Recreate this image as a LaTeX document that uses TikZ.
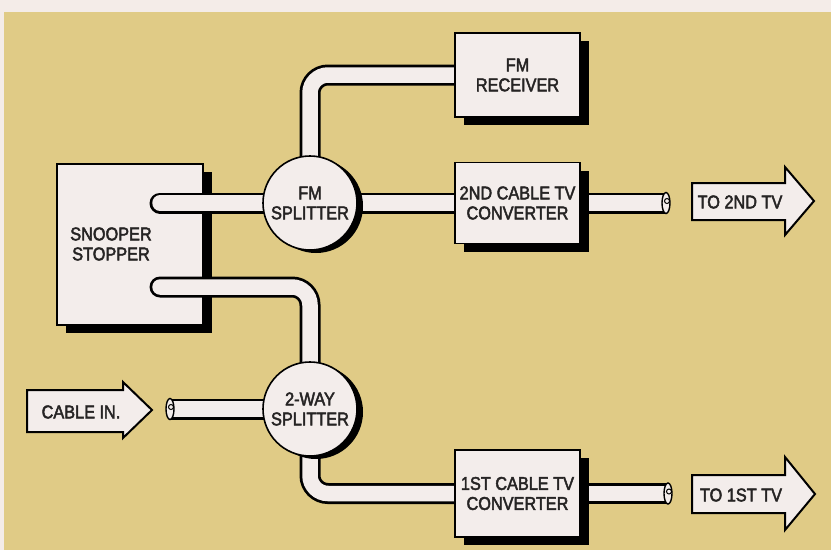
\documentclass[tikz,border=0pt]{standalone}
\usepackage{fontspec}
\setmainfont{Liberation Sans}[FakeStretch=0.88,FakeBold=2.5]
\usetikzlibrary{shadows,calc}
\pgfdeclarelayer{back}
\pgfdeclarelayer{tubes}
\pgfsetlayers{back,tubes,main}

\definecolor{bgtan}{RGB}{224,203,134}
\definecolor{paper}{RGB}{244,236,232}
\definecolor{boxfill}{RGB}{243,237,235}
\definecolor{ink}{RGB}{38,36,36}

\tikzset{
  lbl/.style={font=\fontsize{18.5}{20}\selectfont, text=ink, align=center, inner sep=0pt},
  box/.style={draw=black, line width=1.6pt, fill=boxfill, inner sep=0pt, lbl,
    drop shadow={shadow xshift=9pt, shadow yshift=-8pt, fill=black, opacity=1}},
  splitter/.style={circle, draw=black, line width=1.6pt, fill=boxfill, inner sep=0pt,
    minimum size=94pt, lbl,
    drop shadow={shadow xshift=6pt, shadow yshift=-3pt, fill=black, opacity=1}},
  tubeout/.style={line width=21pt, draw=black},
  tubein/.style={line width=15.5pt, draw=boxfill},
  blockarrow/.style={draw=black, line width=2pt, fill=boxfill, line join=miter},
  cutend/.style={draw=black, line width=1.4pt, fill=boxfill},
}

\begin{document}
\begin{tikzpicture}[x=1pt,y=-1pt]
\useasboundingbox (0,0) rectangle (831,550);

\begin{pgfonlayer}{back}
  \fill[paper] (0,0) rectangle (831,550);
  \fill[bgtan] (4,12) rectangle (831,550);
  \node[box, minimum width=146pt, minimum height=161pt] (snoop) at (130,244.5) {};
  \node[lbl] (snooplbl) at (111,244) {SNOOPER\\STOPPER};
\end{pgfonlayer}

% boxes and splitters
\node[box, minimum width=125pt, minimum height=84pt] (fmrx) at (517.5,75) {FM\\RECEIVER};
\node[box, minimum width=125pt, minimum height=81pt] (conv2) at (517.5,203) {2ND CABLE TV\\CONVERTER};
\node[box, minimum width=125pt, minimum height=87pt] (conv1) at (517.5,493.5) {1ST CABLE TV\\CONVERTER};
\node[splitter] (fmsplit) at (310,203) {FM\\SPLITTER};
\node[splitter] (twoway) at (310,409) {2-WAY\\SPLITTER};

% tube end points
\coordinate (s1) at (160,203);
\coordinate (s2) at (160,287);
\coordinate (cut1) at (170,409);
\coordinate (cut2) at (666,203);
\coordinate (cut3) at (668,493.5);

% block arrows
\draw[blockarrow] (27,390) -- (123,390) -- (123,382) -- (152,410) -- (123,438) -- (123,432) -- (27,432) -- cycle;
\node[lbl] (cablein) at (81,412) {CABLE IN.};
\draw[blockarrow] (692,183) -- (785,183) -- (785,167) -- (814,201) -- (785,235) -- (785,220) -- (692,220) -- cycle;
\node[lbl] (to2) at (740,202) {TO 2ND TV};
\draw[blockarrow] (692,475) -- (785,475) -- (785,457) -- (815,494) -- (785,530) -- (785,513) -- (692,513) -- cycle;
\node[lbl] (to1) at (741,495) {TO 1ST TV};

% tubes
\begin{pgfonlayer}{tubes}
  \foreach \st in {tubeout, tubein}{
    \draw[\st, line cap=round] (s1) -- (conv2.center);
    \draw[\st, line cap=round, rounded corners=18pt] (s2) -| (twoway.center);
    \draw[\st, rounded corners=18pt] (fmsplit.center) |- (fmrx.center);
    \draw[\st, rounded corners=18pt] (twoway.center) |- (conv1.center);
    \draw[\st] (cut1) -- (twoway.center);
    \draw[\st] (conv2.center) -- (cut2);
    \draw[\st] (conv1.center) -- (cut3);
  }
  \foreach \c in {cut1,cut2,cut3}{
    \draw[cutend] (\c) ellipse [x radius=4, y radius=10.5];
    \draw[black, line width=1pt] ($(\c)+(1,-2)$) circle [radius=2.5];
  }
\end{pgfonlayer}
\end{tikzpicture}
\end{document}
